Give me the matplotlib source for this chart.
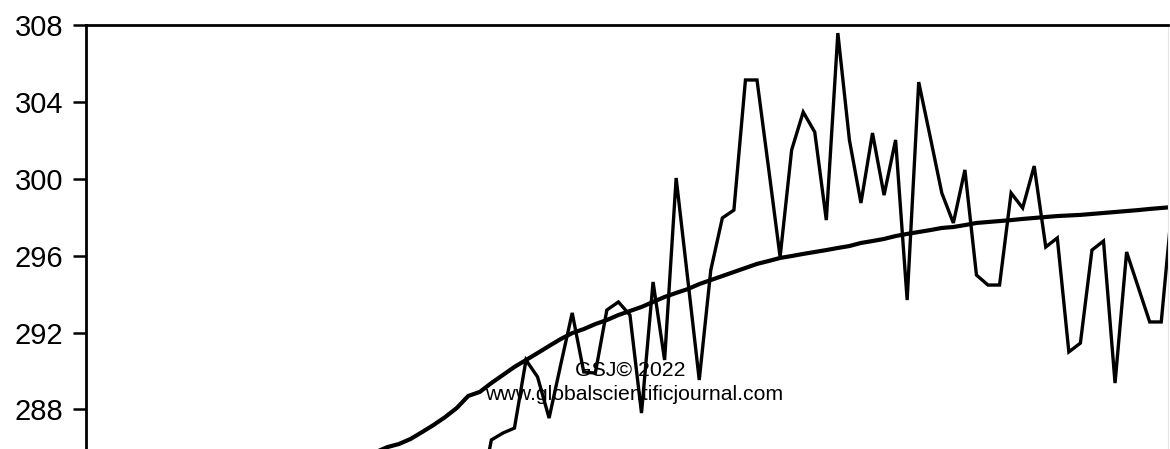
import numpy as np
import matplotlib
matplotlib.use("Agg")
import matplotlib.pyplot as plt

# observation index (same spacing for both series)
obs_k = list(range(-4, 57))
obs_vals = [283.3, 286.41, 286.77, 287.03,
            290.57, 289.69, 287.55, 290.31, 293.02, 289.95, 289.89, 293.17,
            293.59, 292.91, 287.81, 294.63, 290.57, 300.04, 294.8, 289.53,
            295.25, 297.96, 298.37, 305.14, 305.14, 300.56, 295.93, 301.5,
            303.47, 302.43, 297.85, 307.58, 302.02, 298.74, 302.38, 299.15,
            302.02, 293.69, 305.03, 302.17, 299.26, 297.70, 300.46, 294.99,
            294.47, 294.47, 299.26, 298.48, 300.66, 296.45, 296.92, 290.99,
            291.45, 296.29, 296.76, 289.37, 296.19, 294.37, 292.55, 292.55,
            299.0]

trend_k = list(range(-13, 57))
trend_vals = [285.78, 286.04, 286.20, 286.46, 286.82, 287.19, 287.60, 288.07,
              288.70, 288.91, 289.37, 289.79, 290.21,
              290.57, 290.93, 291.30, 291.66, 291.97, 292.18, 292.44, 292.65,
              292.91, 293.12, 293.33, 293.59, 293.85, 294.06, 294.26, 294.52,
              294.73, 294.94, 295.15, 295.36, 295.57, 295.72, 295.88, 295.98,
              296.09, 296.19, 296.29, 296.40, 296.50, 296.66, 296.76, 296.87,
              297.02, 297.13, 297.23, 297.33, 297.44, 297.49, 297.59, 297.70,
              297.75, 297.80, 297.85, 297.91, 297.96, 298.01, 298.06, 298.09,
              298.12, 298.17, 298.22, 298.27, 298.32, 298.37, 298.43, 298.48,
              298.53]

yticks = [288, 292, 296, 300, 304, 308]

W, H = 1170, 449
fig = plt.figure(figsize=(W / 100, H / 100), dpi=100)
ax = fig.add_axes([86 / W, 0, (1168 - 86) / W, (H - 25) / H])

ax.plot(obs_k, obs_vals, color="black", lw=2.4, solid_joinstyle="miter")
ax.plot(trend_k, trend_vals, color="black", lw=3.0)

ax.set_xlim((86 - 526) / 11.55, (1168 - 526) / 11.55)
ax.set_ylim(285.94, 308)
ax.set_yticks(yticks)
ax.set_yticklabels([str(t) for t in yticks], fontsize=21, family="Liberation Sans")
ax.set_xticks([])

ax.spines["bottom"].set_visible(False)
ax.spines["right"].set_color("#e6e6e6")
ax.spines["right"].set_linewidth(0.8)
ax.spines["left"].set_linewidth(2.0)
ax.spines["top"].set_linewidth(2.0)
ax.tick_params(axis="y", direction="out", length=9.5, width=1.8, pad=7)

# watermark
fig.text(630 / W, 1 - 370 / H, "GSJ© 2022", ha="center", va="center",
         fontsize=15.3, family="Liberation Sans")
fig.text(634 / W, 1 - 395 / H, "www.globalscientificjournal.com", ha="center",
         va="center", fontsize=15.3, family="Liberation Sans")

fig.savefig("out.png", dpi=100)
